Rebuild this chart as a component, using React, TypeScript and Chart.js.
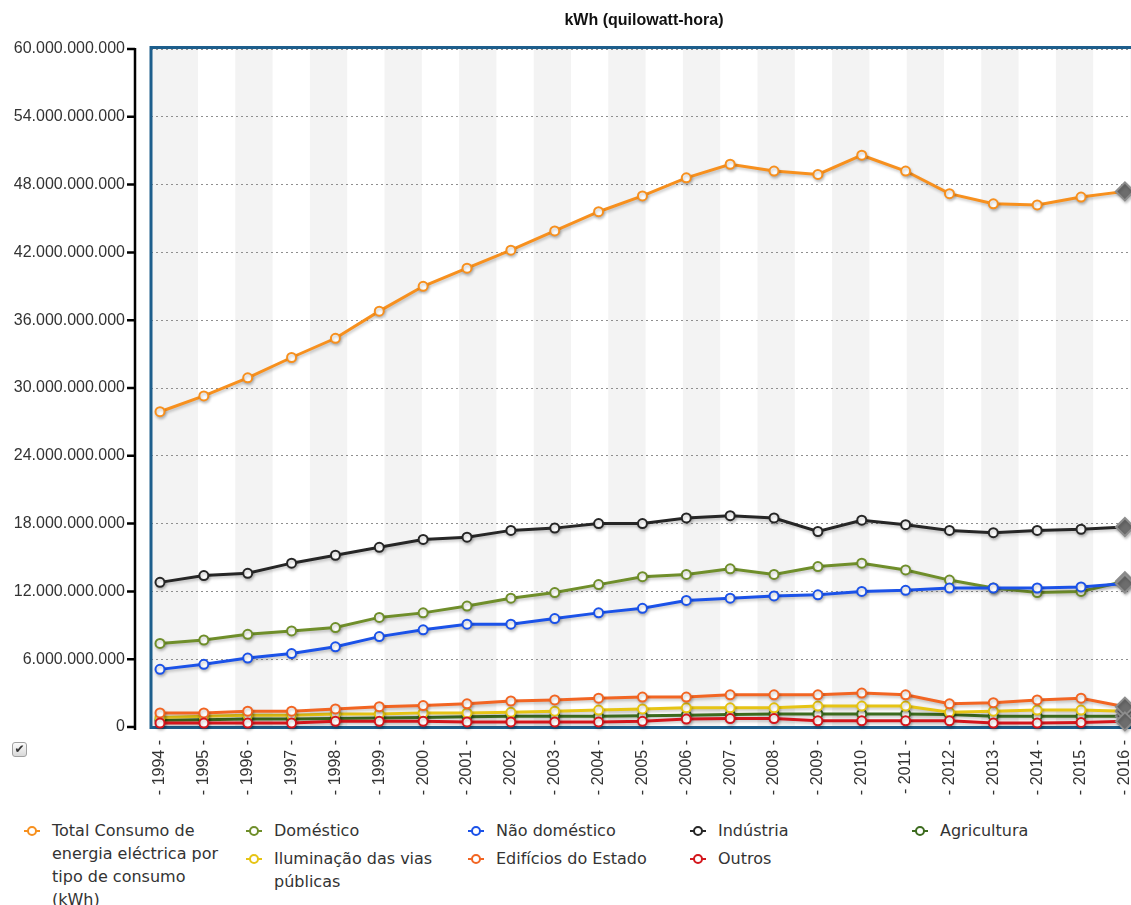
import React, { useEffect, useRef } from "react";
import { Chart, registerables } from "chart.js";

Chart.register(...registerables);

const chartTitle = "kWh (quilowatt-hora)";

const years = [
  1994, 1995, 1996, 1997, 1998, 1999, 2000, 2001, 2002, 2003, 2004, 2005,
  2006, 2007, 2008, 2009, 2010, 2011, 2012, 2013, 2014, 2015, 2016,
];

// values in billions of kWh
const totalConsumo = [
  27.9, 29.3, 30.9, 32.7, 34.4, 36.8, 39.0, 40.6, 42.2, 43.9, 45.6, 47.0,
  48.6, 49.8, 49.2, 48.9, 50.6, 49.2, 47.2, 46.3, 46.2, 46.9, 47.4,
];
const domestico = [
  7.4, 7.7, 8.2, 8.5, 8.8, 9.7, 10.1, 10.7, 11.4, 11.9, 12.6, 13.3, 13.5,
  14.0, 13.5, 14.2, 14.5, 13.9, 13.0, 12.3, 11.9, 12.0, 12.9,
];
const naoDomestico = [
  5.1, 5.55, 6.1, 6.5, 7.1, 8.0, 8.6, 9.1, 9.1, 9.6, 10.1, 10.5, 11.2, 11.4,
  11.6, 11.7, 12.0, 12.1, 12.3, 12.3, 12.3, 12.4, 12.7,
];
const industria = [
  12.8, 13.4, 13.6, 14.5, 15.2, 15.9, 16.6, 16.8, 17.4, 17.6, 18.0, 18.0,
  18.5, 18.7, 18.5, 17.3, 18.3, 17.9, 17.4, 17.2, 17.4, 17.5, 17.7,
];
const agricultura = [
  0.6, 0.65, 0.7, 0.7, 0.75, 0.8, 0.85, 0.9, 0.95, 0.95, 0.95, 1.0, 1.05,
  1.1, 1.15, 1.15, 1.15, 1.15, 1.1, 0.95, 0.95, 0.95, 0.95,
];
const iluminacao = [
  0.85, 0.95, 1.05, 1.05, 1.15, 1.15, 1.25, 1.25, 1.3, 1.4, 1.5, 1.6, 1.7,
  1.7, 1.7, 1.85, 1.85, 1.85, 1.3, 1.4, 1.5, 1.5, 1.4,
];
const edificios = [
  1.25, 1.25, 1.4, 1.4, 1.6, 1.8, 1.9, 2.05, 2.3, 2.4, 2.55, 2.65, 2.65,
  2.85, 2.85, 2.85, 3.0, 2.85, 2.05, 2.15, 2.4, 2.55, 1.8,
];
const outros = [
  0.35, 0.35, 0.35, 0.35, 0.5, 0.5, 0.5, 0.45, 0.45, 0.45, 0.45, 0.5, 0.7,
  0.75, 0.75, 0.55, 0.55, 0.55, 0.55, 0.35, 0.35, 0.4, 0.5,
];

const seriesLabels = [
  "Total Consumo de energia eléctrica por tipo de consumo (kWh)",
  "Doméstico",
  "Não doméstico",
  "Indústria",
  "Agricultura",
  "Iluminação das vias públicas",
  "Edifícios do Estado",
  "Outros",
];
const seriesValues = [
  totalConsumo,
  domestico,
  naoDomestico,
  industria,
  agricultura,
  iluminacao,
  edificios,
  outros,
];
const seriesColors = [
  "#f7901e",
  "#6f8e2a",
  "#1b52e8",
  "#262626",
  "#3c6b1e",
  "#e6c414",
  "#f26522",
  "#d3161c",
];

const yMin = 0;
const yMax = 60e9;
const yStep = 6e9;
const unit = 1e9;

const fmt = (v: number) =>
  Math.round(v)
    .toString()
    .replace(/\B(?=(\d{3})+(?!\d))/g, ".");

const FONT = '"Liberation Sans", Arial, sans-serif';

const bandsPlugin = {
  id: "bands",
  beforeDraw(chart: any) {
    const { ctx, chartArea: a } = chart;
    ctx.save();
    ctx.fillStyle = "#f3f3f3";
    let x0 = a.left;
    let x1 = a.left + 47;
    let i = 0;
    while (x0 < a.right) {
      if (i % 2 === 0)
        ctx.fillRect(x0, a.top, Math.min(x1, a.right) - x0, a.bottom - a.top);
      x0 = x1;
      x1 += 37.3;
      i++;
    }
    ctx.restore();
  },
};

const framePlugin = {
  id: "frame",
  beforeDatasetsDraw(chart: any) {
    const { ctx, chartArea: a } = chart;
    const y = chart.scales.y;
    ctx.save();
    // plot frame
    ctx.strokeStyle = "#1d5e8c";
    ctx.lineWidth = 3;
    ctx.beginPath();
    ctx.moveTo(a.right + 2, a.top - 1.5);
    ctx.lineTo(a.left, a.top - 1.5);
    ctx.lineTo(a.left, a.bottom + 0.5);
    ctx.lineTo(a.right + 2, a.bottom + 0.5);
    ctx.stroke();
    // offset black y axis
    const ax = a.left - 16;
    ctx.strokeStyle = "#000";
    ctx.lineWidth = 2.5;
    ctx.beginPath();
    ctx.moveTo(ax, y.getPixelForValue(yMax) - 1);
    ctx.lineTo(ax, y.getPixelForValue(yMin) + 3);
    ctx.stroke();
    ctx.beginPath();
    for (const t of y.ticks) {
      const py = y.getPixelForValue(t.value);
      ctx.moveTo(ax - 8, py);
      ctx.lineTo(ax, py);
    }
    ctx.stroke();
    ctx.restore();
  },
};

const shadowPlugin = {
  id: "lineShadow",
  beforeDatasetDraw(chart: any) {
    const ctx = chart.ctx;
    ctx.save();
    ctx.shadowColor = "rgba(0,0,0,0.22)";
    ctx.shadowBlur = 3;
    ctx.shadowOffsetX = 1;
    ctx.shadowOffsetY = 2;
  },
  afterDatasetDraw(chart: any) {
    chart.ctx.restore();
  },
};

const titlePlugin = {
  id: "centerTitle",
  afterDraw(chart: any) {
    const { ctx, chartArea: a } = chart;
    ctx.save();
    ctx.font = `bold 16px ${FONT}`;
    ctx.fillStyle = "#111";
    ctx.textAlign = "center";
    ctx.textBaseline = "middle";
    ctx.fillText(chartTitle, (a.left + a.right) / 2 + 3, 21);
    ctx.restore();
  },
};

function LegendMarker({ color }: { color: string }) {
  return (
    <svg
      width="16"
      height="12"
      style={{ position: "absolute", left: 0, top: 6 }}
    >
      <line x1="0" y1="6" x2="16" y2="6" stroke={color} strokeWidth="2" />
      <circle cx="8" cy="6" r="4" fill="#fff" stroke={color} strokeWidth="2" />
    </svg>
  );
}

export default function App() {
  const ref = useRef<HTMLCanvasElement>(null);

  useEffect(() => {
    if (!ref.current) return;
    const last = years.length - 1;
    const n = seriesLabels.length;
    const datasets = seriesLabels.map((label, idx) => {
      const color = seriesColors[idx];
      return {
        label,
        data: years.map((yr, i) => ({ x: yr, y: seriesValues[idx][i] * unit })),
        borderColor: color,
        backgroundColor: color,
        borderWidth: 3,
        tension: 0,
        clip: false as any,
        order: n - idx,
        pointStyle: (c: any) => (c.dataIndex === last ? "rectRot" : "circle"),
        pointRadius: (c: any) => (c.dataIndex === last ? 9 : 4.5),
        pointBorderWidth: 2,
        pointBackgroundColor: (c: any) =>
          c.dataIndex === last ? "#6d6d6d" : "#ffffff",
        pointBorderColor: (c: any) =>
          c.dataIndex === last ? "#8d8d8d" : color,
      };
    });

    const chart = new Chart(ref.current, {
      type: "line",
      data: { datasets },
      plugins: [bandsPlugin, framePlugin, shadowPlugin, titlePlugin],
      options: {
        animation: false,
        responsive: true,
        maintainAspectRatio: false,
        events: [],
        layout: {
          autoPadding: false,
          padding: { top: 49, left: 0, right: 0, bottom: 0 },
        },
        plugins: {
          legend: { display: false },
          tooltip: { enabled: false },
          title: { display: false },
        },
        scales: {
          x: {
            type: "linear",
            min: 1993.795,
            max: 2016.139,
            afterBuildTicks: (s: any) => {
              s.ticks = years.map((v) => ({ value: v }));
            },
            afterFit: (s: any) => {
              s.height = 85;
              s.paddingLeft = 0;
              s.paddingRight = 0;
            },
            grid: { display: false, drawTicks: false },
            border: { display: false },
            ticks: {
              autoSkip: false,
              minRotation: 90,
              maxRotation: 90,
              padding: 13,
              color: "#333",
              font: { family: FONT, size: 16 },
              callback: (v: any) => `- ${v} -`,
            },
          },
          y: {
            type: "linear",
            min: yMin,
            max: yMax,
            afterFit: (s: any) => {
              s.width = 151;
            },
            grid: {
              color: "#8f8f8f",
              lineWidth: 1,
              drawTicks: false,
            },
            border: { display: false, dash: [2, 3] },
            ticks: {
              stepSize: yStep,
              padding: 26,
              color: "#333",
              font: { family: FONT, size: 16 },
              callback: (v: any) => fmt(Number(v)),
            },
          },
        },
      },
    });
    return () => chart.destroy();
  }, []);

  return (
    <div
      style={{
        position: "absolute",
        left: 0,
        top: 0,
        width: 1131,
        height: 905,
        overflow: "hidden",
        background: "#fff",
      }}
    >
      <div
        style={{
          position: "absolute",
          left: 0,
          top: 0,
          width: 1131,
          height: 812,
        }}
      >
        <canvas ref={ref} />
      </div>
      <div
        style={{
          position: "absolute",
          left: 12,
          top: 742,
          width: 15,
          height: 15,
          boxSizing: "border-box",
          border: "1px solid #a0a0a0",
          borderRadius: 3,
          background: "linear-gradient(#fbfbfb, #d9d9d9)",
          color: "#333",
          fontSize: 12,
          lineHeight: "13px",
          textAlign: "center",
          fontFamily: '"DejaVu Sans", sans-serif',
        }}
      >
        ✔
      </div>
      <div
        style={{
          position: "absolute",
          left: 24,
          top: 819,
          width: 1112,
          fontFamily: '"DejaVu Sans", Verdana, sans-serif',
          fontSize: 16,
          lineHeight: "23px",
          color: "#333",
        }}
      >
        {seriesLabels.map((label, idx) => (
          <div
            key={label}
            style={{
              float: "left",
              width: 222,
              position: "relative",
              marginBottom: 5,
            }}
          >
            <LegendMarker color={seriesColors[idx]} />
            <div style={{ marginLeft: 28, maxWidth: 176 }}>{label}</div>
          </div>
        ))}
      </div>
    </div>
  );
}
